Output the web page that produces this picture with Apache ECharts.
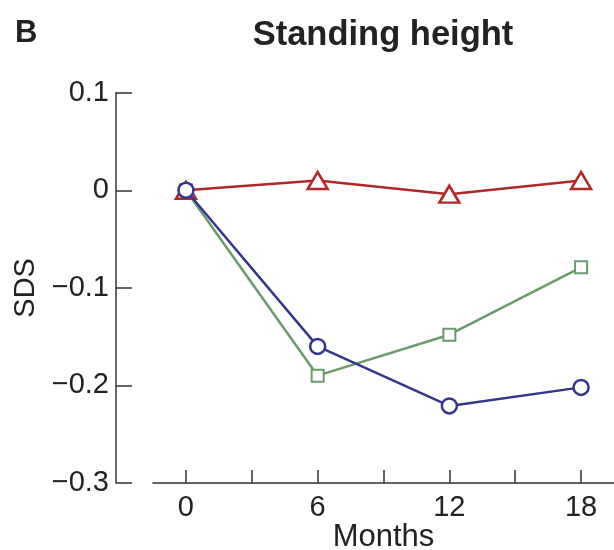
<!DOCTYPE html>
<html>
<head>
<meta charset="utf-8">
<script src="https://cdn.jsdelivr.net/npm/echarts@6/dist/echarts.min.js"></script>
<style>
html,body{margin:0;padding:0;background:#fff;}
#chart{width:614px;height:550px;}
</style>
</head>
<body>
<div id="chart"></div>
<script>
var months = [0, 6, 12, 18];
var xTickValues = [0, 3, 6, 9, 12, 15, 18];
var xLabelValues = [0, 6, 12, 18];
var yTickValues = [-0.3, -0.2, -0.1, 0, 0.1];
var yTickLabels = ['\u22120.3', '\u22120.2', '\u22120.1', '0', '0.1'];
var redValues = [0, 0.01, -0.004, 0.01];
var greenValues = [0, -0.19, -0.148, -0.079];
var blueValues = [0, -0.16, -0.221, -0.202];

function pairs(vals) { return months.map(function (m, i) { return [m, vals[i]]; }); }

var font = 'Liberation Sans, Arial, sans-serif';
var axisColor = '#333';

var chart = echarts.init(document.getElementById('chart'), null, {renderer: 'canvas'});
chart.setOption({
  animation: false,
  backgroundColor: '#fff',
  title: [
    {text: 'B', left: 10, top: 13, textStyle: {fontFamily: font, fontSize: 31, fontWeight: 'bold', color: '#222'}},
    {text: 'Standing height', left: 378, top: 13, textAlign: 'center', textStyle: {fontFamily: font, fontSize: 34.5, fontWeight: 'bold', color: '#222'}}
  ],
  grid: {left: 153, right: 0, top: 92.7, bottom: 67, containLabel: false, outerBoundsMode: 'none'},
  xAxis: {
    type: 'value', min: -1.5, max: 19.5,
    name: 'Months', nameLocation: 'middle', nameGap: 39, nameMoveOverlap: false,
    nameTextStyle: {fontFamily: font, fontSize: 31, color: '#222', verticalAlign: 'top'},
    axisLine: {show: true, onZero: false, lineStyle: {color: axisColor, width: 1.5}},
    axisTick: {show: true, inside: true, length: 13, customValues: xTickValues, lineStyle: {color: axisColor, width: 1.5}},
    axisLabel: {customValues: xLabelValues, fontFamily: font, fontSize: 29, color: '#222', margin: 10},
    splitLine: {show: false}
  },
  yAxis: {
    type: 'value', min: -0.3, max: 0.1, interval: 0.1, offset: 37,
    name: 'SDS', nameLocation: 'middle', nameGap: 74, nameRotate: 90,
    nameTextStyle: {fontFamily: font, fontSize: 29, color: '#222'},
    axisLine: {show: true, onZero: false, lineStyle: {color: axisColor, width: 1.5}},
    axisTick: {show: true, inside: true, length: 16, customValues: yTickValues, lineStyle: {color: axisColor, width: 1.5}},
    axisLabel: {customValues: yTickValues, fontFamily: font, fontSize: 29, color: '#222', margin: 7,
      formatter: function (v) {
        for (var i = 0; i < yTickValues.length; i++) { if (Math.abs(yTickValues[i] - v) < 1e-9) return yTickLabels[i]; }
        return '';
      }},
    splitLine: {show: false}
  },
  series: [
    {type: 'line', data: pairs(greenValues), symbol: 'rect', symbolSize: 12,
     lineStyle: {color: '#6b9a6b', width: 2.5}, itemStyle: {color: '#fff', borderColor: '#6b9a6b', borderWidth: 2}, z: 2},
    {type: 'line', data: pairs(redValues), symbol: 'triangle', symbolSize: [20, 17],
     lineStyle: {color: '#b02828', width: 2.5}, itemStyle: {color: '#fff', borderColor: '#b02828', borderWidth: 2.5}, z: 3},
    {type: 'line', data: pairs(blueValues), symbol: 'circle', symbolSize: 15,
     lineStyle: {color: '#35358f', width: 2.5}, itemStyle: {color: '#fff', borderColor: '#35358f', borderWidth: 2.5}, z: 4}
  ]
});
</script>
</body>
</html>
